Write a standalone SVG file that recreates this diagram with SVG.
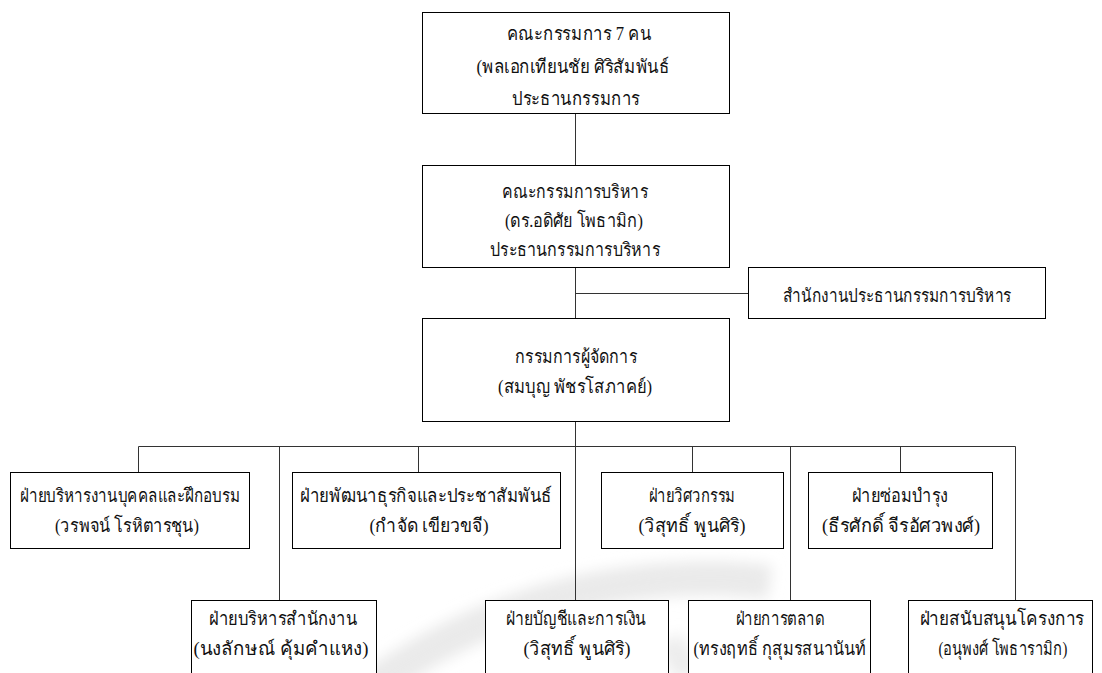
<svg xmlns="http://www.w3.org/2000/svg" width="1102" height="673" viewBox="0 0 1102 673">
<defs>
<style>
.box{fill:#fff;stroke:#000;stroke-width:1}
.t{font-family:"Liberation Serif","DejaVu Serif",serif;font-size:19px;fill:#111;text-anchor:middle}
.c{stroke:#333;stroke-width:1;fill:none}
</style>
<filter id="blur" x="-20%" y="-50%" width="140%" height="200%"><feGaussianBlur stdDeviation="7"/></filter>
</defs>
<rect width="1102" height="673" fill="#fff"/>
<g id="watermark" filter="url(#blur)">
<path d="M360 695 Q470 612 600 588 Q690 572 770 582" stroke="#eaeaea" stroke-width="34" fill="none"/>
<path d="M668 640 L690 675" stroke="#ededed" stroke-width="28" fill="none"/>
</g>
<g id="connectors" class="c">
<line x1="575.5" y1="113" x2="575.5" y2="600"/>
<line x1="575.5" y1="293.5" x2="748" y2="293.5"/>
<line x1="138.5" y1="446.5" x2="1015.5" y2="446.5"/>
<line x1="138.5" y1="446.5" x2="138.5" y2="472"/>
<line x1="279.5" y1="446.5" x2="279.5" y2="600"/>
<line x1="418.5" y1="446.5" x2="418.5" y2="472"/>
<line x1="692.5" y1="446.5" x2="692.5" y2="472"/>
<line x1="790.5" y1="446.5" x2="790.5" y2="600"/>
<line x1="900.5" y1="446.5" x2="900.5" y2="472"/>
<line x1="1015.5" y1="446.5" x2="1015.5" y2="600"/>
</g>
<g id="board">
<rect class="box" x="422.5" y="12.5" width="307" height="101"/>
<text class="t" x="579" y="40" textLength="144" lengthAdjust="spacingAndGlyphs">คณะกรรมการ 7 คน</text>
<text class="t" x="573" y="73" textLength="193" lengthAdjust="spacingAndGlyphs">(พลเอกเทียนชัย  ศิริสัมพันธ์</text>
<text class="t" x="576" y="105" textLength="128" lengthAdjust="spacingAndGlyphs">ประธานกรรมการ</text>
</g>
<g id="exec-board">
<rect class="box" x="422.5" y="165.5" width="307" height="102"/>
<text class="t" x="575" y="198" textLength="146" lengthAdjust="spacingAndGlyphs">คณะกรรมการบริหาร</text>
<text class="t" x="574" y="227" textLength="138" lengthAdjust="spacingAndGlyphs">(ดร.อดิศัย  โพธามิก)</text>
<text class="t" x="575" y="256" textLength="170" lengthAdjust="spacingAndGlyphs">ประธานกรรมการบริหาร</text>
</g>
<g id="exec-office">
<rect class="box" x="748.5" y="267.5" width="297" height="51"/>
<text class="t" x="897" y="302" textLength="229" lengthAdjust="spacingAndGlyphs">สำนักงานประธานกรรมการบริหาร</text>
</g>
<g id="md">
<rect class="box" x="422.5" y="318.5" width="307" height="103"/>
<text class="t" x="576" y="363" textLength="122" lengthAdjust="spacingAndGlyphs">กรรมการผู้จัดการ</text>
<text class="t" x="575" y="393" textLength="154" lengthAdjust="spacingAndGlyphs">(สมบุญ  พัชรโสภาคย์)</text>
</g>
<g id="hr">
<rect class="box" x="10.5" y="472.5" width="239" height="76"/>
<text class="t" x="130" y="502" textLength="220" lengthAdjust="spacingAndGlyphs">ฝ่ายบริหารงานบุคคลและฝึกอบรม</text>
<text class="t" x="127" y="532" textLength="144" lengthAdjust="spacingAndGlyphs">(วรพจน์  โรหิตารชุน)</text>
</g>
<g id="bizdev">
<rect class="box" x="292.5" y="472.5" width="268" height="76"/>
<text class="t" x="426" y="502" textLength="252" lengthAdjust="spacingAndGlyphs">ฝ่ายพัฒนาธุรกิจและประชาสัมพันธ์</text>
<text class="t" x="429" y="532" textLength="119" lengthAdjust="spacingAndGlyphs">(กำจัด  เขียวขจี)</text>
</g>
<g id="engineering">
<rect class="box" x="601.5" y="472.5" width="182" height="76"/>
<text class="t" x="692" y="502" textLength="87" lengthAdjust="spacingAndGlyphs">ฝ่ายวิศวกรรม</text>
<text class="t" x="692" y="532" textLength="107" lengthAdjust="spacingAndGlyphs">(วิสุทธิ์  พูนศิริ)</text>
</g>
<g id="maintenance">
<rect class="box" x="808.5" y="472.5" width="184" height="76"/>
<text class="t" x="900" y="502" textLength="96" lengthAdjust="spacingAndGlyphs">ฝ่ายซ่อมบำรุง</text>
<text class="t" x="901" y="532" textLength="158" lengthAdjust="spacingAndGlyphs">(ธีรศักดิ์  จีรอัศวพงศ์)</text>
</g>
<g id="office-admin">
<rect class="box" x="191.5" y="600.5" width="185" height="90"/>
<text class="t" x="283" y="625" textLength="148" lengthAdjust="spacingAndGlyphs">ฝ่ายบริหารสำนักงาน</text>
<text class="t" x="281" y="655" textLength="175" lengthAdjust="spacingAndGlyphs">(นงลักษณ์  คุ้มคำแหง)</text>
</g>
<g id="finance">
<rect class="box" x="485.5" y="600.5" width="183" height="90"/>
<text class="t" x="576" y="625" textLength="140" lengthAdjust="spacingAndGlyphs">ฝ่ายบัญชีและการเงิน</text>
<text class="t" x="577" y="655" textLength="107" lengthAdjust="spacingAndGlyphs">(วิสุทธิ์  พูนศิริ)</text>
</g>
<g id="marketing">
<rect class="box" x="688.5" y="600.5" width="182" height="90"/>
<text class="t" x="780" y="625" textLength="89" lengthAdjust="spacingAndGlyphs">ฝ่ายการตลาด</text>
<text class="t" x="780" y="655" textLength="173" lengthAdjust="spacingAndGlyphs">(ทรงฤทธิ์  กุสุมรสนานันท์</text>
</g>
<g id="project-support">
<rect class="box" x="908.5" y="600.5" width="184" height="90"/>
<text class="t" x="1002" y="625" textLength="165" lengthAdjust="spacingAndGlyphs">ฝ่ายสนับสนุนโครงการ</text>
<text class="t" x="1003" y="655" textLength="129" lengthAdjust="spacingAndGlyphs">(อนุพงศ์  โพธารามิก)</text>
</g>
</svg>
